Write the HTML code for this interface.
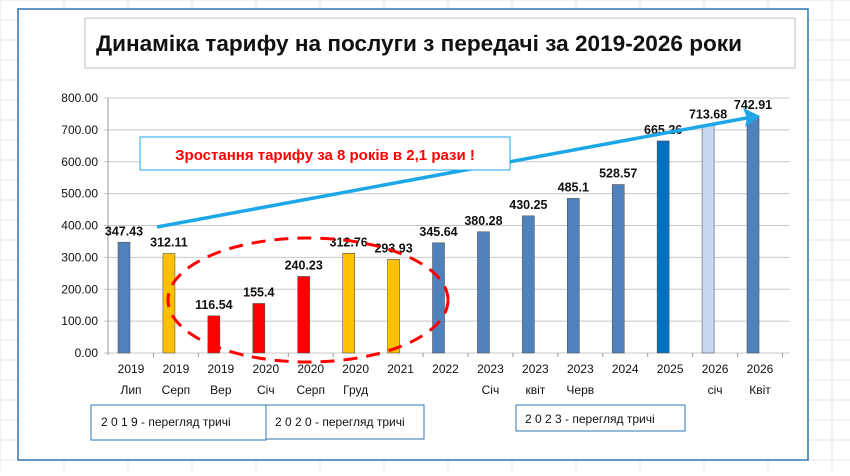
<!DOCTYPE html>
<html><head><meta charset="utf-8">
<style>
body{margin:0;width:850px;height:471px;overflow:hidden;background:#fff;font-family:"Liberation Sans",sans-serif}
svg text{font-family:"Liberation Sans","DejaVu Sans",sans-serif}
</style></head><body>
<svg id="c" width="850" height="471" xmlns="http://www.w3.org/2000/svg">
<g id="bg"></g>
<rect x="18" y="9" width="790" height="451" fill="#fff" stroke="#2e75b6" stroke-width="1.5"/>
<rect x="85" y="18" width="710" height="50" fill="#fff" stroke="#bfbfbf"/>
<text x="96" y="51" textLength="646" lengthAdjust="spacingAndGlyphs" font-size="22" font-weight="bold" fill="#111">Динаміка тарифу  на послуги з передачі  за 2019-2026 роки</text>
<g id="grid"></g>
<g id="bars"></g>
<g id="xl"></g>
<ellipse cx="308" cy="300" rx="140" ry="62" fill="none" stroke="#ff0000" stroke-width="3" stroke-dasharray="14,9"/>
<line x1="157" y1="227" x2="752" y2="117" stroke="#1ea7e8" stroke-width="3.5"/>
<polygon points="760,116 743,108 747,118 745,127" fill="#1ea7e8"/>
<rect x="140" y="137" width="370" height="33" fill="#fff" stroke="#1ea7e8"/>
<text x="325" y="160" text-anchor="middle" font-size="15" font-weight="bold" fill="#ff0000">Зростання тарифу за 8 років   в 2,1 рази !</text>
<rect x="91" y="405" width="175" height="35" fill="#fff" stroke="#2e75b6"/>
<text x="101" y="426" font-size="12" fill="#111">2  0  1  9 - перегляд  тричі</text>
<rect x="266" y="405" width="158" height="34" fill="#fff" stroke="#2e75b6"/>
<text x="275" y="426" font-size="12" fill="#111">2 0 2 0 - перегляд тричі</text>
<rect x="516" y="405" width="169" height="26" fill="#fff" stroke="#2e75b6"/>
<text x="525" y="423" font-size="12" fill="#111">2 0 2 3 - перегляд тричі</text>
</svg>
<script>
const categories=["2019|Лип","2019|Серп","2019|Вер","2020|Січ","2020|Серп","2020|Груд","2021|","2022|","2023|Січ","2023|квіт","2023|Черв","2024|","2025|","2026|січ","2026|Квіт"];
const values=[347.43,312.11,116.54,155.4,240.23,312.76,293.93,345.64,380.28,430.25,485.1,528.57,665.26,713.68,742.91];
const labels=["347.43","312.11","116.54","155.4","240.23","312.76","293.93","345.64","380.28","430.25","485.1","528.57","665.26","713.68","742.91"];
const colors=["#4f81bd","#ffc000","#ff0000","#ff0000","#ff0000","#ffc000","#ffc000","#4f81bd","#4f81bd","#4f81bd","#4f81bd","#4f81bd","#0070c0","#c6d9f1","#4f81bd"];
const ticks=[0,100,200,300,400,500,600,700,800];
const NS="http://www.w3.org/2000/svg";
const y=v=>353-v*(255/800);
const xc=i=>131+i*44.93;
function mk(t,a,p){const e=document.createElementNS(NS,t);for(const k in a)e.setAttribute(k,a[k]);p.appendChild(e);return e;}
const bg=document.getElementById('bg');
for(let gx=0;gx<850;gx+=64){const l=mk('line',{x1:gx,y1:0,x2:gx,y2:471,stroke:'#e4e4e4'},bg);}
for(let gy=0;gy<471;gy+=20){const l=mk('line',{x1:0,y1:gy,x2:850,y2:gy,stroke:'#e4e4e4'},bg);}
const g=document.getElementById('grid');
ticks.forEach(t=>{const l=mk('line',{x1:104,y1:y(t),x2:790,y2:y(t),stroke:'#c8c8c8'},g);

const tx=mk('text',{x:98,y:y(t)+4,'text-anchor':'end','font-size':12,fill:'#111'},g);tx.textContent=t.toFixed(2);
});
const ax=mk('line',{x1:108,y1:98,x2:108,y2:355,stroke:'#999'},g);
const b=document.getElementById('bars'),xl=document.getElementById('xl');
values.forEach((v,i)=>{const cx=xc(i)-7;
const r=mk('rect',{x:cx-6,y:y(v),width:12,height:353-y(v),fill:colors[i],stroke:'#555','stroke-width':0.6},b);

const t=mk('text',{x:cx,y:y(v)-7,'text-anchor':'middle','font-size':12.5,'font-weight':'bold',fill:'#111'},b);t.textContent=labels[i];

const p=categories[i].split('|');
const a=mk('text',{x:xc(i),y:373,'text-anchor':'middle','font-size':12,fill:'#111'},xl);a.textContent=p[0];

if(p[1]){const m=mk('text',{x:xc(i),y:394,'text-anchor':'middle','font-size':12,fill:'#111'},xl);m.textContent=p[1];
}
const tk=mk('line',{x1:xc(i)+22.5,y1:353,x2:xc(i)+22.5,y2:357,stroke:'#999'},xl);});
</script>
</body></html>
